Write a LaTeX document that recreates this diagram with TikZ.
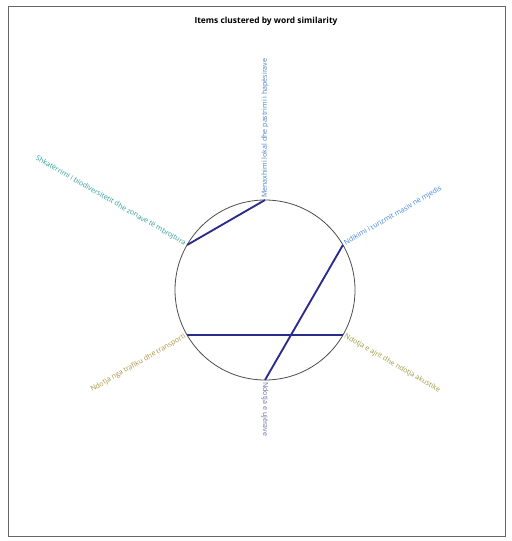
\documentclass[tikz,border=0pt]{standalone}
\usepackage{fontspec}
\setmainfont{Open Sans}
\definecolor{edgecol}{HTML}{2B2B8C}
\definecolor{ctop}{HTML}{4A7FC4}
\definecolor{cul}{HTML}{2E9A9A}
\definecolor{cur}{HTML}{3A84D6}
\definecolor{clr}{HTML}{9A9A3C}
\definecolor{cll}{HTML}{A8923C}
\definecolor{cbot}{HTML}{6A6AA8}
\tikzset{
  lbl/.style={font=\fontsize{5.3}{6}\selectfont, inner sep=1.5pt},
  link/.style={draw=edgecol, line width=1.4pt},
  ring/.style={draw=black!70, line width=0.6pt},
  frame/.style={draw=black!60, line width=0.6pt}
}
\begin{document}
\begin{tikzpicture}[x=0.75pt,y=-0.75pt]
\useasboundingbox (0,0) rectangle (511,541);
\draw[frame] (8,6) -- (505,6) -- (505,536) -- (8,536) -- cycle;
\node[font=\bfseries\fontsize{6.3}{7}\selectfont] (title) at (266,21) {Items clustered by word similarity};
\draw[ring] (265,290) circle (90);
\coordinate (pT) at (265,200);
\coordinate (pUR) at (342.9,245);
\coordinate (pLR) at (342.9,335);
\coordinate (pB) at (265,380);
\coordinate (pLL) at (187.1,335);
\coordinate (pUL) at (187.1,245);
\draw[link] (pT) -- (pUL);
\draw[link] (pUR) -- (pB);
\draw[link] (pLL) -- (pLR);
\node[lbl, text=ctop, rotate=90, anchor=west] (lT) at (pT) {Menaxhimi lokal dhe pastrimi i hapësirave};
\node[lbl, text=cur, rotate=30, anchor=west] (lUR) at (pUR) {Ndikimi i turizmit masiv në mjedis};
\node[lbl, text=clr, rotate=-30, anchor=west] (lLR) at (pLR) {Ndotja e ajrit dhe ndotja akustike};
\node[lbl, text=cbot, rotate=-90, anchor=west] (lB) at (pB) {Ndotja e ujërave};
\node[lbl, text=cll, rotate=30, anchor=east] (lLL) at (pLL) {Ndotja nga trafiku dhe transporti};
\node[lbl, text=cul, rotate=-30, anchor=east] (lUL) at (pUL) {Shkatërrimi i biodiversitetit dhe zonave të mbrojtura};
\end{tikzpicture}
\end{document}
